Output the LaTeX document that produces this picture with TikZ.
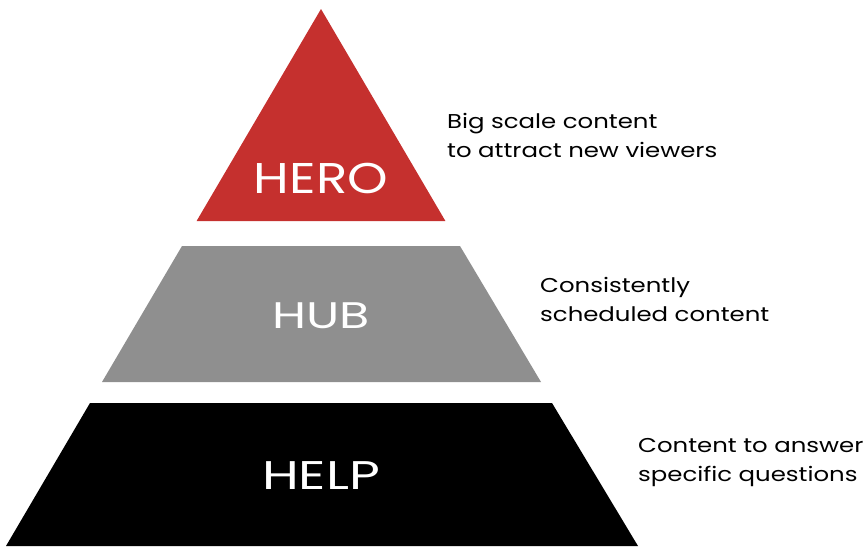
\documentclass[tikz,border=0pt]{standalone}
\usepackage{fontspec}
\setmainfont{Poppins}
\newfontfamily\herofont[FakeStretch=1.2]{Poppins}
\newfontfamily\tierfont[FakeStretch=1.33]{Poppins}
\newfontfamily\notefont[FakeStretch=1.22]{Poppins}
\definecolor{herored}{HTML}{C5302E}
\definecolor{hubgray}{HTML}{8F8F8F}
\begin{document}
\begin{tikzpicture}[x=1pt,y=-1pt,
  tier/.style={text=white, anchor=base, inner sep=0pt},
  note/.style={font=\notefont\fontsize{20}{29.5}\selectfont, align=left, anchor=base west, inner sep=0pt, text=black}]
\useasboundingbox (0,0) rectangle (867,546);
\fill[herored] (321,9) -- (445.4,221) -- (196.6,221) -- cycle;
\fill[hubgray] (182,246) -- (460,246) -- (541,382) -- (102,382) -- cycle;
\fill[black] (90,403) -- (552,403) -- (638,546) -- (6,546) -- cycle;
\node[tier, font=\herofont\fontsize{43}{43}\selectfont] (hero) at (321,193.7) {HERO};
\node[tier, font=\tierfont\fontsize{37}{37}\selectfont] (hub) at (321,328.3) {HUB};
\node[tier, font=\tierfont\fontsize{40}{40}\selectfont] (help) at (321,489) {HELP};
\node[note] (n1) at (447,157.5) {Big scale content\\to attract new viewers};
\node[note] (n2) at (540,321.5) {Consistently\\scheduled content};
\node[note] (n3) at (638,481.5) {Content to answer\\specific questions};
\end{tikzpicture}
\end{document}
